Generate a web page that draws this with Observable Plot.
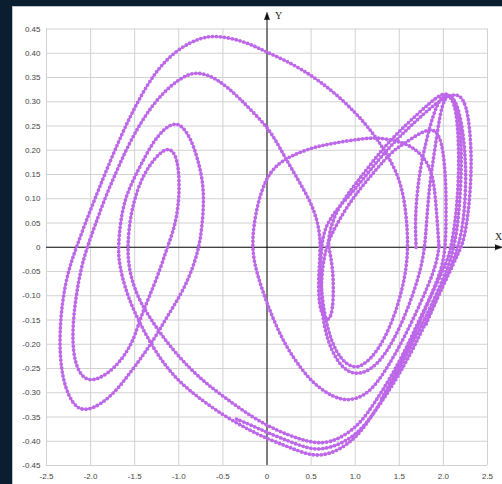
<!DOCTYPE html>
<html><head><meta charset="utf-8">
<script src="https://cdn.jsdelivr.net/npm/d3@7"></script>
<script src="https://cdn.jsdelivr.net/npm/@observablehq/plot@0.6"></script>
<style>
html,body{margin:0;padding:0;background:#0b1e30;width:502px;height:484px;overflow:hidden;}
#panel{position:absolute;left:12px;top:6px;width:490px;height:477px;background:#fff;border-left:1px solid #b8c4cc;border-top:1px solid #b8c4cc;overflow:hidden;}
</style></head><body><div id="panel"></div>
<script>
// Tick values and labels
const xTicks = [-2.5, -2, -1.5, -1, -0.5, 0, 0.5, 1, 1.5, 2, 2.5];
const xTickLabels = ["-2.5", "-2.0", "-1.5", "-1.0", "-0.5", "0", "0.5", "1.0", "1.5", "2.0", "2.5"];
const yTicks = [0.45, 0.4, 0.35, 0.3, 0.25, 0.2, 0.15, 0.1, 0.05, 0, -0.05, -0.1, -0.15, -0.2, -0.25, -0.3, -0.35, -0.4, -0.45];
const yTickLabels = ["0.45", "0.40", "0.35", "0.30", "0.25", "0.20", "0.15", "0.10", "0.05", "0", "-0.05", "-0.10", "-0.15", "-0.20", "-0.25", "-0.30", "-0.35", "-0.40", "-0.45"];

// Trajectory pieces, as [x, y]
const riseStart = [[1.69,0],[1.68,0.055],[1.70,0.11],[1.74,0.165],[1.80,0.215],[1.86,0.258],[1.92,0.29],[1.98,0.31],[2.04,0.316],[2.10,0.306],[2.14,0.283],[2.165,0.24],[2.175,0.19],[2.17,0.137],[2.15,0.08],[2.115,0.03],[2.085,0]];
const trackB = [[2.04,-0.03],[1.9,-0.085],[1.75,-0.14],[1.6,-0.2],[1.45,-0.253],[1.3,-0.298],[1.14,-0.343],[1.0,-0.373],[0.8,-0.397],[0.62,-0.405],[0.45,-0.4],[0.25,-0.388],[0,-0.368],[-0.25,-0.34],[-0.485,-0.309],[-0.68,-0.282],[-0.864,-0.252],[-1.04,-0.217],[-1.2,-0.18],[-1.34,-0.142],[-1.45,-0.108],[-1.53,-0.07],[-1.57,-0.035],[-1.58,0]];
const loop2 = [[-1.56,0.05],[-1.51,0.095],[-1.43,0.138],[-1.33,0.17],[-1.21,0.196],[-1.11,0.205],[-1.04,0.192],[-1.005,0.165],[-0.995,0.13],[-1.0,0.095],[-1.04,0.045],[-1.13,0],[-1.22,-0.05],[-1.33,-0.1],[-1.43,-0.143]];
const innerBL = [[-1.51,-0.19],[-1.62,-0.225],[-1.75,-0.252],[-1.89,-0.27],[-2.02,-0.276],[-2.12,-0.262],[-2.18,-0.234],[-2.205,-0.195],[-2.195,-0.145],[-2.16,-0.095],[-2.11,-0.045],[-2.04,0]];
const innerArch = [[-1.95,0.045],[-1.84,0.1],[-1.72,0.151],[-1.6,0.2],[-1.47,0.245],[-1.33,0.285],[-1.18,0.318],[-1.03,0.342],[-0.9,0.356],[-0.8,0.36],[-0.68,0.356],[-0.56,0.345],[-0.43,0.327],[-0.3,0.305],[-0.15,0.277],[0,0.248],[0.1,0.22],[0.2,0.187],[0.35,0.14],[0.5,0.092],[0.57,0.055],[0.605,0.02]];
const narrowLoop = [[0.6,-0.02],[0.585,-0.06],[0.585,-0.1],[0.605,-0.13],[0.655,-0.148],[0.71,-0.15],[0.745,-0.128],[0.755,-0.085],[0.745,-0.045],[0.715,-0.012],[0.69,0.01]];
const diagD1 = [[0.72,0.04],[0.78,0.07],[0.87,0.098],[1.0,0.13],[1.14,0.163],[1.3,0.2],[1.44,0.228],[1.58,0.253],[1.71,0.275],[1.83,0.295],[1.93,0.31],[2.02,0.318],[2.09,0.312],[2.15,0.29],[2.19,0.25],[2.205,0.2],[2.2,0.137],[2.18,0.08],[2.15,0.03],[2.115,0]];
const trackA = [[2.07,-0.035],[1.92,-0.097],[1.77,-0.155],[1.6,-0.215],[1.45,-0.268],[1.3,-0.316],[1.14,-0.362],[1.0,-0.394],[0.8,-0.42],[0.62,-0.43],[0.45,-0.427],[0.25,-0.412],[0,-0.395],[-0.25,-0.372],[-0.49,-0.347],[-0.75,-0.314],[-0.98,-0.28],[-1.16,-0.243],[-1.32,-0.198],[-1.46,-0.15],[-1.57,-0.105],[-1.645,-0.06],[-1.68,-0.025],[-1.685,0]];
const loop1 = [[-1.665,0.05],[-1.61,0.1],[-1.52,0.138],[-1.43,0.17],[-1.3,0.215],[-1.16,0.246],[-1.04,0.257],[-0.95,0.248],[-0.86,0.222],[-0.79,0.185],[-0.73,0.14],[-0.715,0.095],[-0.735,0.045],[-0.77,0],[-0.84,-0.042],[-0.94,-0.085],[-1.06,-0.122],[-1.17,-0.155]];
const outerBL = [[-1.3,-0.195],[-1.43,-0.229],[-1.57,-0.263],[-1.70,-0.294],[-1.88,-0.324],[-2.05,-0.337],[-2.16,-0.331],[-2.25,-0.307],[-2.315,-0.27],[-2.35,-0.22],[-2.345,-0.16],[-2.32,-0.115],[-2.28,-0.07],[-2.22,-0.03],[-2.15,0.005]];
const outerArch = [[-2.06,0.05],[-1.95,0.1],[-1.83,0.155],[-1.65,0.232],[-1.47,0.30],[-1.24,0.37],[-0.98,0.413],[-0.75,0.432],[-0.6,0.436],[-0.4,0.431],[-0.2,0.42],[0,0.402],[0.2,0.386],[0.4,0.366],[0.6,0.342],[0.8,0.313],[1.0,0.278],[1.15,0.247],[1.3,0.21],[1.42,0.172],[1.5,0.14],[1.555,0.1],[1.585,0.052],[1.60,0]];
const u1 = [[1.575,-0.05],[1.515,-0.1],[1.43,-0.148],[1.32,-0.193],[1.19,-0.228],[1.07,-0.245],[0.99,-0.248],[0.89,-0.24],[0.78,-0.215],[0.69,-0.172],[0.63,-0.115],[0.605,-0.055],[0.615,0]];
const diagD3 = [[0.65,0.035],[0.72,0.06],[0.82,0.085],[0.955,0.11],[1.14,0.152],[1.3,0.188],[1.5,0.228],[1.7,0.262],[1.85,0.287],[1.98,0.305],[2.1,0.315],[2.19,0.314],[2.26,0.292],[2.3,0.245],[2.32,0.18],[2.305,0.115],[2.275,0.06],[2.23,0.015],[2.2,0]];
const trackMid = [[2.12,-0.032],[1.97,-0.09],[1.82,-0.148],[1.67,-0.205],[1.52,-0.255],[1.37,-0.3],[1.2,-0.345],[1.05,-0.38],[0.85,-0.405],[0.62,-0.418],[0.45,-0.414],[0.25,-0.4],[0,-0.382],[-0.2,-0.365],[-0.35,-0.354]];
const midLoop = [[1.95,0],[1.92,-0.035],[1.83,-0.078],[1.67,-0.144],[1.48,-0.213],[1.26,-0.279],[1.1,-0.307],[0.92,-0.317],[0.75,-0.309],[0.55,-0.285],[0.386,-0.251],[0.2,-0.2],[0.05,-0.14],[-0.07,-0.08],[-0.15,-0.03],[-0.165,0.01],[-0.15,0.045],[-0.1,0.095],[-0.01,0.142],[0.1,0.168],[0.24,0.186],[0.5,0.205],[0.73,0.214],[1.07,0.224],[1.24,0.226],[1.4,0.222],[1.55,0.215],[1.66,0.205],[1.78,0.186],[1.86,0.158],[1.9,0.124],[1.93,0.055],[1.95,0]];
const smallArchU2 = [[1.3,-0.312],[1.45,-0.262],[1.6,-0.208],[1.75,-0.148],[1.88,-0.09],[1.98,-0.045],[2.025,0],[2.03,0.06],[2.03,0.124],[2.01,0.179],[1.98,0.215],[1.93,0.237],[1.86,0.244],[1.75,0.237],[1.64,0.224],[1.52,0.21],[1.41,0.196],[1.25,0.163],[1.07,0.124],[0.955,0.096],[0.84,0.063],[0.74,0.03],[0.67,0],[0.625,-0.045],[0.61,-0.1],[0.64,-0.16],[0.72,-0.21],[0.85,-0.249],[0.99,-0.262],[1.12,-0.258],[1.27,-0.238],[1.41,-0.2],[1.54,-0.152],[1.65,-0.1],[1.74,-0.048],[1.79,0],[1.81,0.055],[1.84,0.124],[1.895,0.193],[1.95,0.26],[1.99,0.296],[2.05,0.316],[2.12,0.307],[2.18,0.28],[2.225,0.235],[2.25,0.18],[2.255,0.137],[2.24,0.075],[2.2,0.025],[2.15,-0.01],[2.06,-0.05],[1.93,-0.105],[1.8,-0.16]];

const segments = [
  {name: "main", pieces: [riseStart, trackB, loop2, innerBL, innerArch, narrowLoop, diagD1, trackA, loop1, outerBL, outerArch, u1, diagD3, trackMid]},
  {name: "midLoop", pieces: [midLoop]},
  {name: "smallArch", pieces: [smallArchU2]}
];
const traj = [];
for (const s of segments) for (const p of s.pieces) for (const [x, y] of p) traj.push({seg: s.name, x, y});

const curveColor = "#bd68e8";
const axisColor = "#111";

const arrowMarks = Plot.spike
  ? [
      Plot.vector([{x: 0, y: 0.469}], {x: "x", y: "y", length: 7.5, rotate: 0, r: 2.6, shape: "spike", anchor: "start", stroke: axisColor, fill: axisColor, strokeWidth: 0.5}),
      Plot.vector([{x: 2.585, y: 0}], {x: "x", y: "y", length: 7.5, rotate: 90, r: 2.6, shape: "spike", anchor: "start", stroke: axisColor, fill: axisColor, strokeWidth: 0.5})
    ]
  : [
      Plot.text([{x: 0, y: 0.477}], {x: "x", y: "y", text: () => "\u25B2", fontSize: 8, fill: axisColor}),
      Plot.text([{x: 2.63, y: 0}], {x: "x", y: "y", text: () => "\u25BA", fontSize: 8, fill: axisColor})
    ];

const chart = Plot.plot({
  width: 490, height: 477,
  marginLeft: 33, marginRight: 16, marginTop: 21.5, marginBottom: 19,
  style: {background: "#fff", fontFamily: "'Liberation Sans', Arial, sans-serif", fontSize: "8px", color: "#444"},
  x: {domain: [-2.5, 2.5], ticks: xTicks, tickFormat: d => xTickLabels[xTicks.indexOf(d)], tickSize: 0, tickPadding: 8, label: null},
  y: {domain: [-0.45, 0.45], ticks: yTicks, tickFormat: d => yTickLabels[yTicks.indexOf(d)], tickSize: 0, tickPadding: 6, label: null},
  marks: [
    Plot.gridX(xTicks, {stroke: "#d2d2d2", strokeOpacity: 1}),
    Plot.gridY(yTicks, {stroke: "#d2d2d2", strokeOpacity: 1}),
    Plot.ruleY([0], {x1: -2.5, x2: 2.6, stroke: axisColor, strokeWidth: 1}),
    Plot.ruleX([0], {y1: -0.45, y2: 0.47, stroke: axisColor, strokeWidth: 1}),
    ...arrowMarks,
    Plot.text([{x: 0.09, y: 0.478, t: "Y"}], {x: "x", y: "y", text: "t", textAnchor: "start", fontSize: 10, fontFamily: "'Liberation Serif', serif", fill: "#222"}),
    Plot.text([{x: 2.585, y: 0.022, t: "X"}], {x: "x", y: "y", text: "t", textAnchor: "start", fontSize: 10, fontFamily: "'Liberation Serif', serif", fill: "#222"}),
    Plot.line(traj, {x: "x", y: "y", z: "seg", stroke: curveColor, strokeWidth: 1.6, curve: "basis"}),
    Plot.line(traj, {x: "x", y: "y", z: "seg", stroke: curveColor, strokeWidth: 3.8, strokeDasharray: "0 4", strokeLinecap: "round", curve: "basis"})
  ]
});
document.getElementById("panel").appendChild(chart);
</script>
</body></html>
